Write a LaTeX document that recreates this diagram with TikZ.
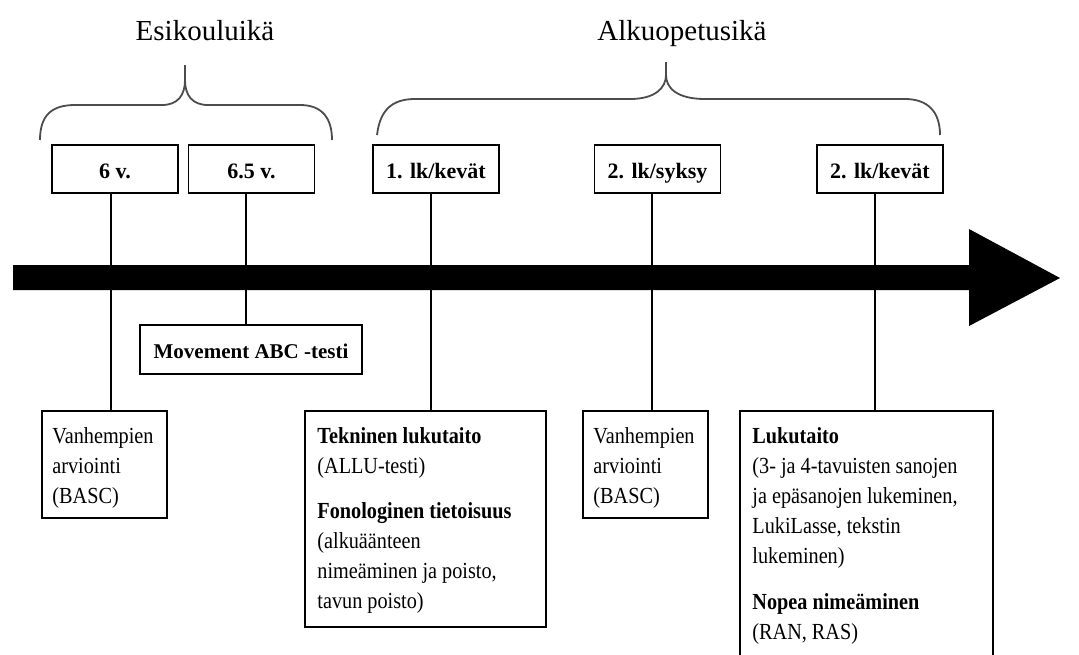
\documentclass[tikz,border=0pt]{standalone}
\usepackage{fontspec}
\setmainfont{Liberation Serif}
\newfontfamily\condfont[FakeStretch=0.88]{Liberation Serif}
\begin{document}
\begin{tikzpicture}[x=0.5pt,y=-0.5pt,
  lbl/.style={draw, line width=0.8pt, minimum width=63pt, minimum height=24pt, inner sep=0pt,
    font=\bfseries\fontsize{11}{12}\selectfont, text height=9pt, text depth=0pt},
  lowbox/.style={draw, line width=0.8pt, inner sep=0pt, anchor=north west},
  body/.style={anchor=north west, inner sep=0pt, align=left, font=\condfont\fontsize{11.5}{15}\selectfont},
  head/.style={anchor=base, inner sep=0pt, font=\fontsize{14.5}{16}\selectfont},
  conn/.style={line width=0.6pt},
  brace/.style={line width=0.9pt, draw=black!70}]
\useasboundingbox (0,0) rectangle (1079,654);

% headings
\node[head] (h1) at (205,40) {Esikouluikä};
\node[head] (h2) at (682,40) {Alkuopetusikä};

% braces
\draw[brace] (40,140) .. controls (40,115) and (52,105) .. (75,105) -- (162,105)
  .. controls (178,105) and (185,95) .. (185,80) -- (185,65);
\draw[brace] (185,80) .. controls (185,95) and (192,105) .. (208,105) -- (300,105)
  .. controls (322,105) and (332,118) .. (332,140);
\draw[brace] (377,135) .. controls (380,110) and (392,99) .. (415,99) -- (630,99)
  .. controls (655,99) and (666,88) .. (666,75) -- (666,62);
\draw[brace] (666,75) .. controls (666,88) and (677,99) .. (705,99) -- (905,99)
  .. controls (928,99) and (940,112) .. (940,135);

% top boxes
\node[lbl] (t1) at (115,169) {6 v.};
\node[lbl] (t2) at (251.5,169) {6.5 v.};
\node[lbl] (t3) at (436,169) {1. lk/kevät};
\node[lbl] (t4) at (657.5,169) {2. lk/syksy};
\node[lbl] (t5) at (880,169) {2. lk/kevät};

% movement box
\node[lbl, minimum width=111pt, minimum height=24.5pt, font=\bfseries\fontsize{10.5}{12}\selectfont] (mv) at (251,349.5) {Movement ABC -testi};

% lower boxes
\node[lowbox, minimum width=62.5pt, minimum height=53.5pt] (b1) at (41,410) {};
\node[lowbox, minimum width=120.5pt, minimum height=108pt] (b2) at (304,410) {};
\node[lowbox, minimum width=62.5pt, minimum height=53.5pt] (b3) at (582,410) {};
\node[lowbox, minimum width=126.5pt, minimum height=125pt] (b4) at (739,410) {};

\node[body] (b1t) at ([shift={(11,17)}]b1.north west) {Vanhempien\\arviointi\\(BASC)};
\node[body] (b2t) at ([shift={(13,17)}]b2.north west)
  {\textbf{Tekninen lukutaito}\\(ALLU-testi)\\[7.5pt]\textbf{Fonologinen tietoisuus}\\(alkuäänteen\\nimeäminen ja poisto,\\tavun poisto)};
\node[body] (b3t) at ([shift={(11,17)}]b3.north west) {Vanhempien\\arviointi\\(BASC)};
\node[body] (b4t) at ([shift={(13,17)}]b4.north west)
  {\textbf{Lukutaito}\\(3- ja 4-tavuisten sanojen\\ja epäsanojen lukeminen,\\LukiLasse, tekstin\\lukeminen)\\[8pt]\textbf{Nopea nimeäminen}\\(RAN, RAS)};

% connectors
\draw[conn] ([xshift=-2pt]t1.south) -- ([xshift=-2pt]t1.south |- b1.north);
\draw[conn] ([xshift=-2.75pt]t2.south) -- ([xshift=-2.75pt]t2.south |- mv.north);
\draw[conn] ([xshift=-2.5pt]t3.south) -- ([xshift=-2.5pt]t3.south |- b2.north);
\draw[conn] ([xshift=-2.75pt]t4.south) -- ([xshift=-2.75pt]t4.south |- b3.north);
\draw[conn] ([xshift=-2.5pt]t5.south) -- ([xshift=-2.5pt]t5.south |- b4.north);

% timeline arrow
\fill (13,265) -- (969,265) -- (969,229) -- (1060,278) -- (969,326) -- (969,290) -- (13,290) -- cycle;
\end{tikzpicture}
\end{document}
